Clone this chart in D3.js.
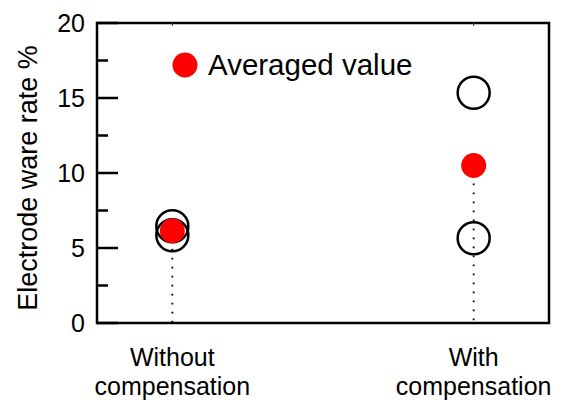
<!DOCTYPE html>
<html><head><meta charset="utf-8">
<script src="https://cdn.jsdelivr.net/npm/d3@7"></script>
<style>body{margin:0;background:#fff}svg{display:block;font-family:"Liberation Sans",Arial,sans-serif}</style>
</head><body>
<script>
const categories = ["Without\ncompensation", "With\ncompensation"];
const measured = [[6.45, 5.85], [15.35, 5.65]];
const averaged = [6.15, 10.5];
const yTicks = [0, 5, 10, 15, 20];
const yMinorTicks = [2.5, 7.5, 12.5, 17.5];
const legendLabel = "Averaged value";
const yLabel = "Electrode ware rate %";

const W = 565, H = 403;
const m = {left: 97, right: 16, top: 23, bottom: 80};
const svg = d3.select("body").append("svg").attr("width", W).attr("height", H);
const iw = W - m.left - m.right, ih = H - m.top - m.bottom;
const g = svg.append("g").attr("transform", `translate(${m.left},${m.top})`);

const x = d3.scaleLinear().domain([-0.25, 1.25]).range([0, iw]);
const y = d3.scaleLinear().domain([0, 20]).range([ih, 0]);

// y ticks (inward)
g.append("g").attr("class", "major").selectAll("line").data(yTicks).join("line")
  .attr("x1", 0).attr("x2", 21).attr("y1", d => y(d)).attr("y2", d => y(d))
  .attr("stroke", "#000").attr("stroke-width", 2.5);
g.append("g").attr("class", "minor").selectAll("line").data(yMinorTicks).join("line")
  .attr("x1", 0).attr("x2", 11).attr("y1", d => y(d)).attr("y2", d => y(d))
  .attr("stroke", "#000").attr("stroke-width", 2.5);

// frame
g.append("rect").attr("x", 0).attr("y", 0).attr("width", iw).attr("height", ih)
  .attr("fill", "none").attr("stroke", "#000").attr("stroke-width", 2.5);

// y tick labels
g.append("g").selectAll("text").data(yTicks).join("text")
  .attr("x", -12).attr("y", d => y(d)).attr("dy", "0.36em")
  .attr("text-anchor", "end").attr("font-size", 25).attr("fill", "#000")
  .text(d => d);

// small category ticks at top
g.append("g").selectAll("line").data(categories.map((c,i)=>i)).join("line")
  .attr("x1", d => x(d)).attr("x2", d => x(d)).attr("y1", -1).attr("y2", 3)
  .attr("stroke", "#333").attr("stroke-width", 1);

// dotted drop lines from average to 0
g.append("g").selectAll("line").data(averaged).join("line")
  .attr("x1", (d,i) => x(i)).attr("x2", (d,i) => x(i))
  .attr("y1", d => y(d)).attr("y2", y(0))
  .attr("stroke", "#000").attr("stroke-width", 1.8).attr("stroke-dasharray", "1.8,7.2");

// measured points (open circles)
const pts = measured.flatMap((arr, i) => arr.map(v => ({i, v})));
g.append("g").selectAll("circle").data(pts).join("circle")
  .attr("cx", d => x(d.i)).attr("cy", d => y(d.v)).attr("r", 16)
  .attr("fill", "none").attr("stroke", "#000").attr("stroke-width", 2.5);

// averaged (red filled)
g.append("g").selectAll("circle").data(averaged).join("circle")
  .attr("cx", (d,i) => x(i)).attr("cy", d => y(d)).attr("r", 12.5)
  .attr("fill", "#ff0000");

// legend
const lg = svg.append("g");
lg.append("circle").attr("cx", 185).attr("cy", 65).attr("r", 12.5).attr("fill", "#ff0000");
lg.append("text").attr("x", 208).attr("y", 75).attr("font-size", 29.5).attr("fill", "#000").text(legendLabel);

// category labels
categories.forEach((c, i) => {
  const lines = c.split("\n");
  const t = g.append("text").attr("text-anchor", "middle").attr("font-size", 25).attr("fill", "#000");
  lines.forEach((l, k) => {
    t.append("tspan").attr("x", x(i)).attr("y", ih + 43 + k * 29).text(l);
  });
});

// y label
svg.append("text").attr("transform", `translate(37,178) rotate(-90)`)
  .attr("text-anchor", "middle").attr("font-size", 27).attr("fill", "#000").text(yLabel);
</script>
</body></html>
